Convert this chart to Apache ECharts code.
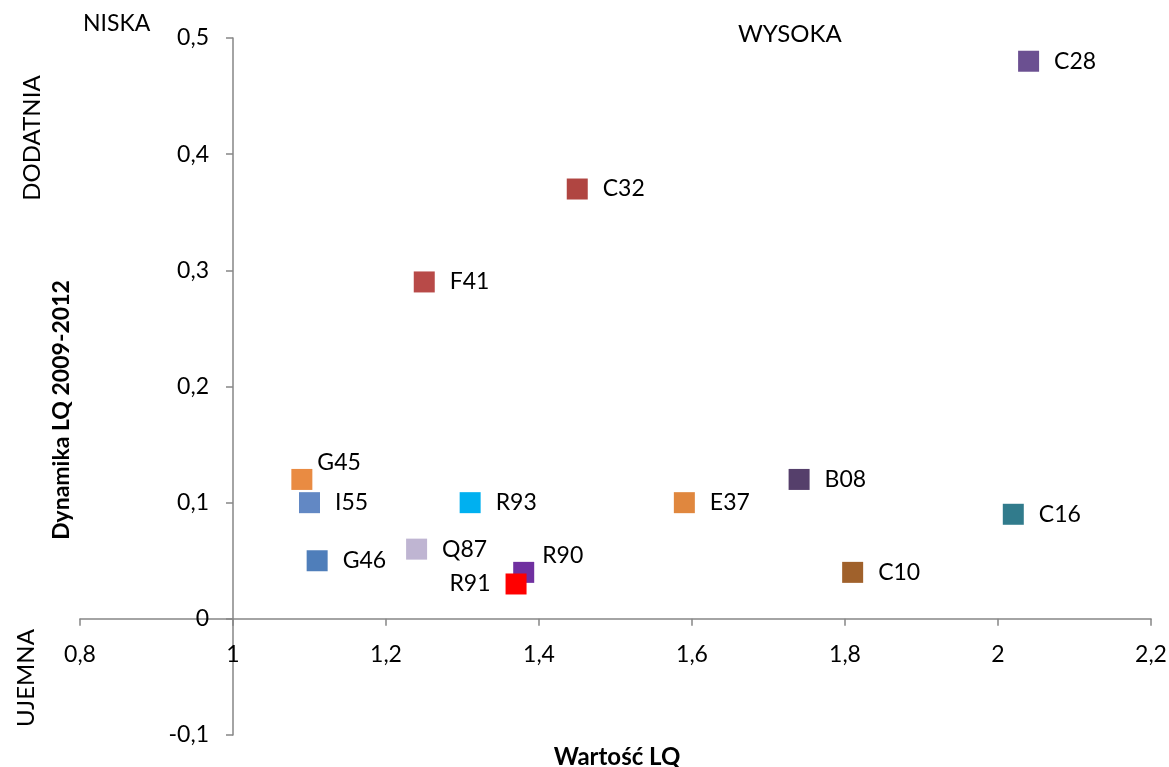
<!DOCTYPE html>
<html>
<head>
<meta charset="utf-8">
<script src="https://cdn.jsdelivr.net/npm/echarts@6/dist/echarts.min.js"></script>
<style>
html,body{margin:0;padding:0;background:#fff;}
#chart{width:1169px;height:767px;}
</style>
</head>
<body>
<div id="chart"></div>
<script>
// ---- data ----
const names     = ['C28','C32','F41','G45','I55','R93','E37','B08','C16','Q87','G46','R90','R91','C10'];
const lqValues  = [2.04, 1.45, 1.25, 1.09, 1.10, 1.31, 1.59, 1.74, 2.02, 1.24, 1.11, 1.38, 1.37, 1.81];
const dynValues = [0.48, 0.37, 0.29, 0.12, 0.10, 0.10, 0.10, 0.12, 0.09, 0.06, 0.05, 0.04, 0.03, 0.04];
const pointColors = ['#6B5091','#B04541','#B84A48','#E98B42','#6288C4','#00B0F0','#E0873E','#553F6B','#317B8C','#BFB5D2','#4F7EBA','#7030A0','#FF0000','#A0612B'];
const xAxisTicks = { min: 0.8, max: 2.2, step: 0.2 };
const yAxisTicks = { min: -0.1, max: 0.5, step: 0.1 };
const X_CROSS = 1;   // LQ value where the vertical axis crosses
const Y_CROSS = 0;   // dynamics value where the horizontal axis crosses

// label placement overrides (style only)
const labelStyleOverrides = {
  G45: { distance: 5, offset: [0, -17] },
  R90: { distance: 8, offset: [0, -17] },
  R91: { position: 'left' }
};

// layout (style)
const W = 1169, H = 767;
const GRID = { left: 80, right: 18, top: 38, bottom: 32 };
const gridW = W - GRID.left - GRID.right;
const gridH = H - GRID.top - GRID.bottom;
const yAxisOffset = -gridW * (X_CROSS - xAxisTicks.min) / (xAxisTicks.max - xAxisTicks.min);
const xAxisOffset = -gridH * (Y_CROSS - yAxisTicks.min) / (yAxisTicks.max - yAxisTicks.min);

const FONT = 'Lato';
const fmt = v => String(parseFloat(v.toFixed(2))).replace('.', ',');

const data = names.map((n, i) => {
  const ov = labelStyleOverrides[n] || {};
  return {
    name: n,
    value: [lqValues[i], dynValues[i]],
    itemStyle: { color: pointColors[i], opacity: 1 },
    label: Object.assign({ position: 'right', distance: 15 }, ov)
  };
});

const chart = echarts.init(document.getElementById('chart'), null, { renderer: 'canvas' });
const axisLineStyle = { color: '#868686', width: 1.5 };
chart.setOption({
  animation: false,
  backgroundColor: '#ffffff',
  grid: Object.assign({ containLabel: false, outerBoundsMode: 'none' }, GRID),
  xAxis: {
    type: 'value',
    position: 'bottom',
    offset: xAxisOffset,
    min: xAxisTicks.min,
    max: xAxisTicks.max,
    interval: xAxisTicks.step,
    axisLine: { show: true, onZero: false, lineStyle: axisLineStyle },
    axisTick: { show: true, inside: false, length: 7, lineStyle: axisLineStyle },
    splitLine: { show: false },
    axisLabel: {
      margin: 24, color: '#000', fontFamily: FONT, fontSize: 23,
      formatter: v => fmt(v)
    }
  },
  yAxis: {
    type: 'value',
    position: 'left',
    offset: yAxisOffset,
    min: yAxisTicks.min,
    max: yAxisTicks.max,
    interval: yAxisTicks.step,
    axisLine: { show: true, onZero: false, lineStyle: axisLineStyle },
    axisTick: { show: true, inside: false, length: 7, lineStyle: axisLineStyle },
    splitLine: { show: false },
    axisLabel: {
      margin: 24, color: '#000', fontFamily: FONT, fontSize: 23,
      formatter: v => fmt(v)
    }
  },
  series: [{
    type: 'scatter',
    symbol: 'rect',
    symbolSize: 21,
    data: data,
    itemStyle: { opacity: 1 },
    emphasis: { disabled: true },
    label: {
      show: true,
      formatter: p => p.name,
      color: '#000',
      fontFamily: FONT,
      fontSize: 23
    },
    z: 3
  }],
  graphic: [
    { type: 'text', left: 83, top: 12, style: { text: 'NISKA', font: '23px ' + FONT, fill: '#000' } },
    { type: 'text', left: 738, top: 22, style: { text: 'WYSOKA', font: '24px ' + FONT, fill: '#000' } },
    { type: 'text', x: 32, y: 138, rotation: Math.PI / 2,
      style: { text: 'DODATNIA', font: '24px ' + FONT, fill: '#000', align: 'center', verticalAlign: 'middle' } },
    { type: 'text', x: 26, y: 678, rotation: Math.PI / 2,
      style: { text: 'UJEMNA', font: '24px ' + FONT, fill: '#000', align: 'center', verticalAlign: 'middle' } },
    { type: 'text', x: 62, y: 410, rotation: Math.PI / 2,
      style: { text: 'Dynamika LQ 2009-2012', font: 'bold 23px ' + FONT, fill: '#000', align: 'center', verticalAlign: 'middle' } },
    { type: 'text', x: 617, y: 757,
      style: { text: 'Wartość LQ', font: 'bold 24px ' + FONT, fill: '#000', align: 'center', verticalAlign: 'middle' } }
  ]
});
</script>
</body>
</html>
